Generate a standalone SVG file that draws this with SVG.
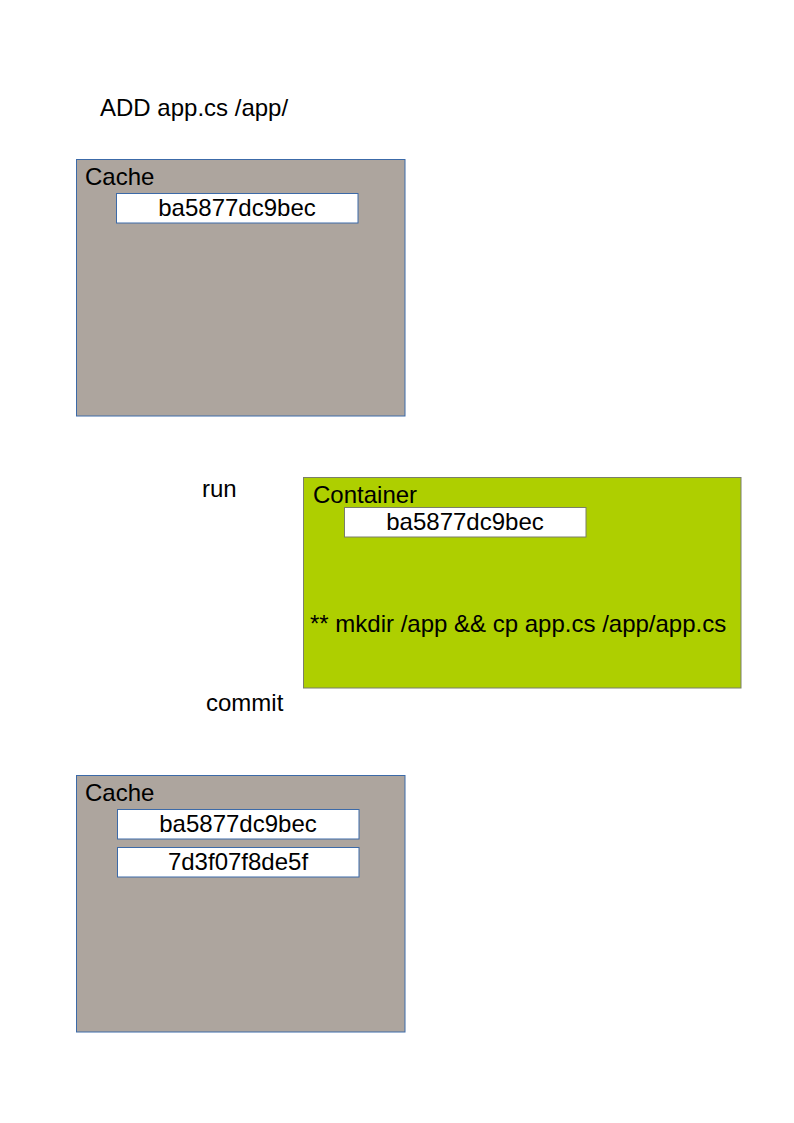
<svg xmlns="http://www.w3.org/2000/svg" width="794" height="1123" viewBox="0 0 794 1123">
<style>
text{font-family:"Liberation Sans",Arial,sans-serif;font-size:24px;fill:#000}
.cache{fill:#ada59e;stroke:#3c6aa8;stroke-width:1}
.cont{fill:#aecf00;stroke:#7a7f6a;stroke-width:1}
.id{fill:#fff;stroke:#3c6aa8;stroke-width:1}
.idg{fill:#fff;stroke:#7a7f6a;stroke-width:1}
.c{text-anchor:middle}
</style>
<rect width="794" height="1123" fill="#fff"/>
<g id="connectors"/>
<g id="label-add"><text x="100" y="116">ADD app.cs /app/</text></g>
<g id="cache1">
<rect class="cache" x="76.5" y="159.5" width="328.5" height="256.5"/>
<text x="85" y="185">Cache</text>
<rect class="id" x="116.5" y="193.5" width="241.5" height="29.5"/>
<text class="c" x="237" y="216">ba5877dc9bec</text>
</g>
<g id="label-run"><text x="202" y="497">run</text></g>
<g id="container">
<rect class="cont" x="303.5" y="477.5" width="437.5" height="210.5"/>
<text x="313" y="503">Container</text>
<rect class="idg" x="344.5" y="507.5" width="241.5" height="29.5"/>
<text class="c" x="465" y="530">ba5877dc9bec</text>
<text x="310" y="632">** mkdir /app &amp;&amp; cp app.cs /app/app.cs</text>
</g>
<g id="label-commit"><text x="206" y="711">commit</text></g>
<g id="cache2">
<rect class="cache" x="76.5" y="775.5" width="328.5" height="256.5"/>
<text x="85" y="801">Cache</text>
<rect class="id" x="117.5" y="809.5" width="241.5" height="29.5"/>
<text class="c" x="238" y="832">ba5877dc9bec</text>
<rect class="id" x="117.5" y="847.5" width="241.5" height="29.5"/>
<text class="c" x="238" y="870">7d3f07f8de5f</text>
</g>
</svg>
